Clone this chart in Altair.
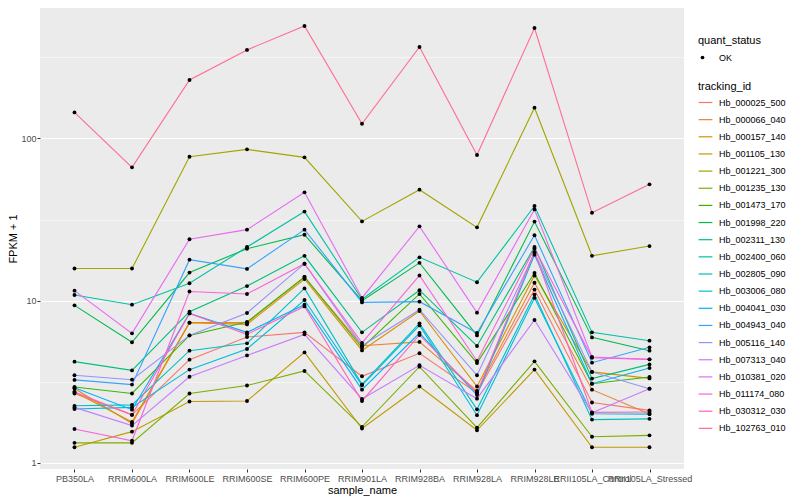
import altair as alt
import pandas as pd

samples = ["PB350LA", "RRIM600LA", "RRIM600LE", "RRIM600SE", "RRIM600PE", "RRIM901LA",
           "RRIM928BA", "RRIM928LA", "RRIM928LE", "RRII105LA_Control", "RRII105LA_Stressed"]

tracking_ids = ["Hb_000025_500", "Hb_000066_040", "Hb_000157_140", "Hb_001105_130",
                "Hb_001221_300", "Hb_001235_130", "Hb_001473_170", "Hb_001998_220",
                "Hb_002311_130", "Hb_002400_060", "Hb_002805_090", "Hb_003006_080",
                "Hb_004041_030", "Hb_004943_040", "Hb_005116_140", "Hb_007313_040",
                "Hb_010381_020", "Hb_011174_080", "Hb_030312_030", "Hb_102763_010"]

hue_colors = ["#F8766D", "#EA8331", "#D89000", "#C09B00", "#A3A500", "#7CAE00", "#39B600",
              "#00BB4E", "#00BF7D", "#00C1A3", "#00BFC4", "#00BAE0", "#00B0F6", "#35A2FF",
              "#9590FF", "#C77CFF", "#E76BF3", "#FA62DB", "#FF62BC", "#FF6C91"]

# FPKM + 1 per sample, one list per tracking_id
hb_000025_500 = [2.68, 1.98, 4.33, 5.97, 6.38, 3.42, 4.74, 2.70, 11.7, 2.36, 2.11]
hb_000066_040 = [2.88, 1.75, 7.32, 7.32, 14.0, 5.28, 5.57, 2.78, 12.9, 2.83, 2.00]
hb_000157_140 = [2.74, 1.79, 7.32, 7.14, 13.6, 4.94, 8.64, 2.96, 14.3, 3.64, 3.32]
hb_001105_130 = [1.25, 1.56, 2.39, 2.41, 4.80, 1.63, 2.96, 1.59, 3.76, 1.25, 1.25]
hb_001221_300 = [15.8, 15.8, 77.1, 85.6, 76.4, 30.8, 48.3, 28.3, 154.6, 18.9, 21.7]
hb_001235_130 = [1.33, 1.33, 2.68, 3.00, 3.69, 1.67, 3.92, 1.65, 4.23, 1.45, 1.48]
hb_001473_170 = [2.94, 2.68, 6.11, 7.39, 14.0, 5.13, 11.0, 4.13, 14.8, 3.08, 3.39]
hb_001998_220 = [9.36, 5.54, 14.9, 20.9, 25.5, 10.0, 17.1, 6.11, 30.7, 5.94, 4.92]
hb_002311_130 = [4.21, 3.72, 8.55, 12.3, 18.9, 6.38, 11.6, 5.26, 21.4, 3.31, 4.05]
hb_002400_060 = [10.84, 9.45, 12.8, 21.4, 35.4, 10.2, 18.5, 13.0, 38.3, 6.38, 5.67]
hb_002805_090 = [2.25, 2.28, 4.92, 5.46, 11.9, 3.05, 7.25, 2.14, 10.9, 1.85, 1.87]
hb_003006_080 = [2.15, 2.20, 3.76, 5.04, 10.1, 3.01, 7.04, 1.97, 10.4, 2.01, 2.00]
hb_004041_030 = [2.91, 2.13, 8.35, 6.38, 9.45, 2.83, 6.32, 2.62, 19.2, 3.08, 3.85]
hb_004943_040 = [3.25, 3.04, 17.9, 15.7, 27.4, 9.76, 9.86, 6.32, 25.3, 4.15, 5.16]
hb_005116_140 = [3.47, 3.26, 6.11, 8.40, 16.9, 5.28, 8.80, 3.47, 19.7, 3.64, 2.87]
hb_007313_040 = [2.20, 1.70, 3.40, 4.60, 6.20, 2.48, 4.00, 2.49, 7.60, 2.04, 2.87]
hb_010381_020 = [11.53, 6.29, 23.9, 27.4, 46.5, 10.4, 28.7, 8.44, 36.5, 4.50, 4.35]
hb_011174_080 = [1.62, 1.37, 11.4, 11.0, 16.9, 5.49, 14.3, 4.25, 21.0, 4.45, 4.35]
hb_030312_030 = [2.74, 1.98, 8.35, 6.20, 9.22, 2.41, 6.15, 2.70, 20.0, 2.05, 2.06]
hb_102763_010 = [144.6, 66.3, 229.0, 351.0, 493.0, 123.0, 366.0, 79.0, 479.0, 34.8, 52.1]

series = [hb_000025_500, hb_000066_040, hb_000157_140, hb_001105_130, hb_001221_300,
          hb_001235_130, hb_001473_170, hb_001998_220, hb_002311_130, hb_002400_060,
          hb_002805_090, hb_003006_080, hb_004041_030, hb_004943_040, hb_005116_140,
          hb_007313_040, hb_010381_020, hb_011174_080, hb_030312_030, hb_102763_010]

rows = []
for tid, vals in zip(tracking_ids, series):
    for s, v in zip(samples, vals):
        rows.append({"tracking_id": tid, "sample_name": s, "fpkm1": v, "quant_status": "OK"})
df = pd.DataFrame(rows)

FONT = "Liberation Sans"
ticks = [1, 10 ** 0.5, 10, 10 ** 1.5, 100, 10 ** 2.5]
is_major = "abs(log(datum.value)/LN10 - round(log(datum.value)/LN10)) < 0.01"

x_enc = alt.X("sample_name:N", sort=samples,
              scale=alt.Scale(type="point", padding=0.6),
              axis=alt.Axis(title="sample_name", labelAngle=0, labelOverlap=False,
                            labelBound=False, labelFlush=False, titlePadding=1))
y_enc = alt.Y("fpkm1:Q",
              scale=alt.Scale(type="log", domain=[0.918, 636], nice=False),
              axis=alt.Axis(title="FPKM + 1", values=ticks, titlePadding=2, labelPadding=1,
                            labelExpr=f"({is_major}) ? format(datum.value, 'd') : ''",
                            gridWidth={"condition": {"test": is_major, "value": 1.1}, "value": 0.5},
                            tickOpacity={"condition": {"test": is_major, "value": 1}, "value": 0}))

lines = alt.Chart(df).mark_line(strokeWidth=1.1).encode(
    x=x_enc, y=y_enc,
    stroke=alt.Stroke("tracking_id:N", sort=tracking_ids,
                      scale=alt.Scale(domain=tracking_ids, range=hue_colors),
                      legend=alt.Legend(title="tracking_id", orient="none",
                                        legendX=658, legendY=73,
                                        symbolType="stroke", symbolSize=190,
                                        symbolStrokeWidth=1.2, rowPadding=4.15,
                                        titlePadding=3, labelOffset=6)),
)

points = alt.Chart(df).mark_point(filled=True, size=15, opacity=1, shape="circle").encode(
    x=x_enc, y=y_enc,
    color=alt.Color("quant_status:N", scale=alt.Scale(range=["black"]),
                    legend=alt.Legend(title="quant_status", orient="none",
                                      legendX=658, legendY=27,
                                      symbolType="circle", symbolSize=14,
                                      titlePadding=7, labelOffset=12)),
)

chart = alt.layer(lines, points).resolve_scale(color="independent").properties(
    width=644, height=461,
    autosize=alt.AutoSizeParams(type="none"),
    padding={"left": 32, "top": 0, "right": 108, "bottom": 30},
    background="white",
).configure_view(
    fill="#EBEBEB", stroke=None
).configure_axis(
    domain=False, gridColor="white", gridWidth=1.1,
    tickColor="#333333", tickSize=3, tickWidth=1,
    labelFont=FONT, labelFontSize=9, labelColor="#4D4D4D", labelPadding=2,
    titleFont=FONT, titleFontSize=11, titleColor="black", titleFontWeight="normal",
).configure_legend(
    titleFont=FONT, titleFontSize=11, titleColor="black", titleFontWeight="normal",
    labelFont=FONT, labelFontSize=9, labelColor="black", titlePadding=6,
)

chart.save("out.html", embed_options={"renderer": "svg", "actions": False})
